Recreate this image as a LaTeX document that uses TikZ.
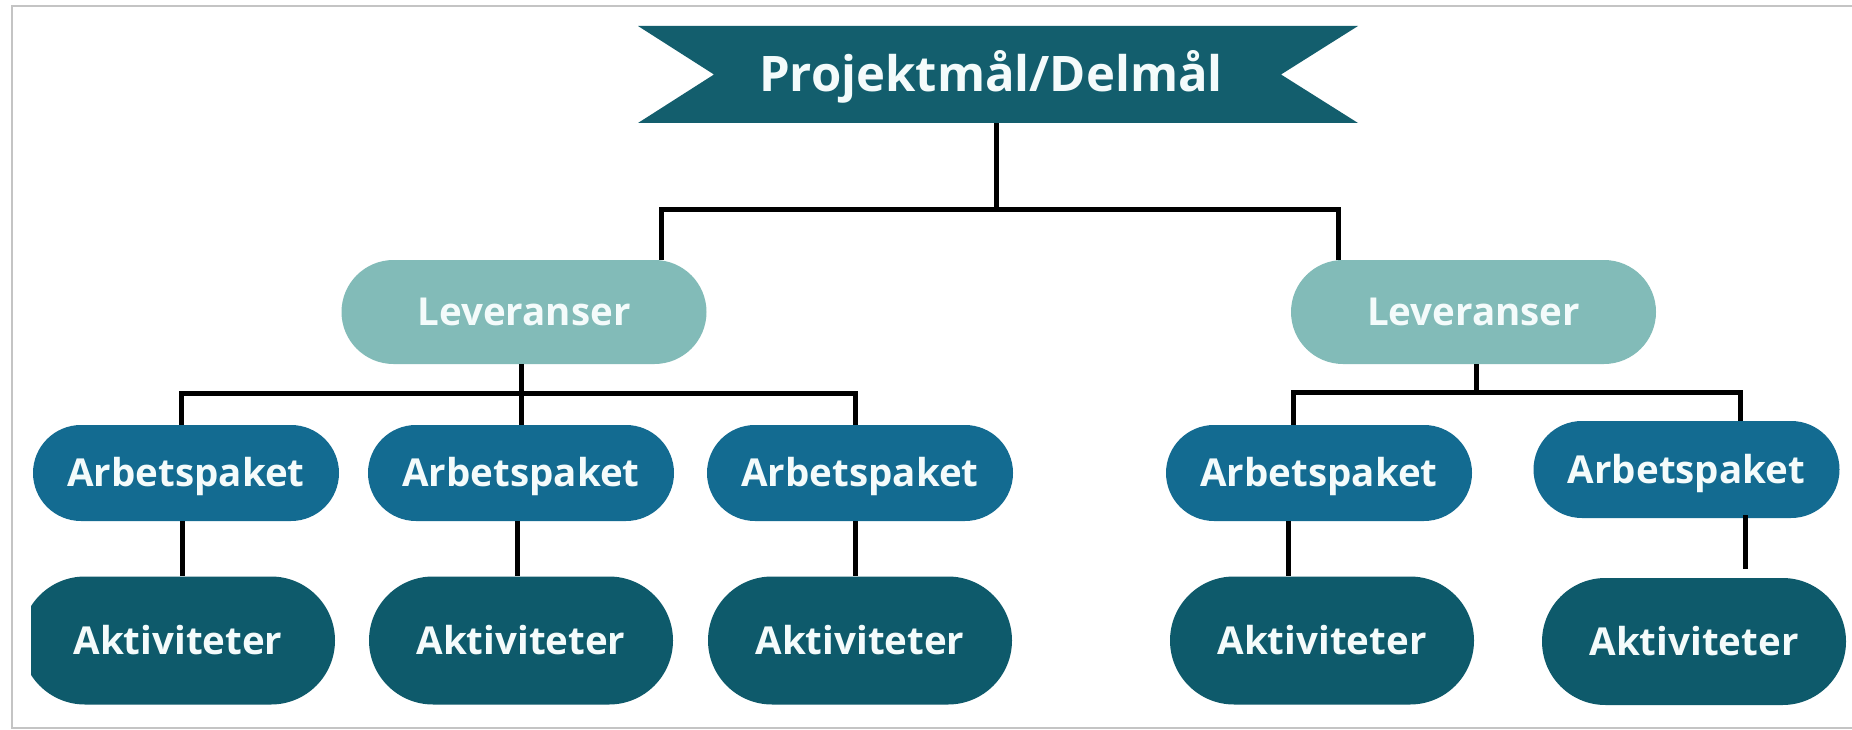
\documentclass[tikz,border=0pt]{standalone}
\usepackage{fontspec}
\setmainfont{Open Sans}
\usetikzlibrary{calc,shapes.misc}
\definecolor{banC}{HTML}{135E6D}
\definecolor{levC}{HTML}{82BBB8}
\definecolor{arbC}{HTML}{136B91}
\definecolor{aktC}{HTML}{0E5A6B}
\definecolor{txtC}{HTML}{F4FBFB}
\definecolor{frameC}{HTML}{C4C4C4}
\begin{document}
\begin{tikzpicture}[x=1pt,y=-1pt,
  conn/.style={line width=5pt, black, line join=miter},
  box/.style={inner sep=0pt, text=txtC, font=\bfseries\fontsize{38.5}{46}\selectfont, text height=27.5pt, text depth=0pt},
  pill/.style={box, rounded rectangle},
  lev/.style={pill, fill=levC, minimum width=365pt, minimum height=104pt},
  arb/.style={pill, fill=arbC, minimum width=306pt, minimum height=96pt},
  akt/.style={pill, fill=aktC, minimum width=304pt, minimum height=128pt},
  ban/.style={box, font=\bfseries\fontsize{49}{56}\selectfont, text height=35pt, minimum width=600pt, minimum height=97pt}]
\useasboundingbox (0,0) rectangle (1852,730);
\fill[white] (0,0) rectangle (1852,730);
% frame
\draw[frameC, line width=2pt] (1852,6) -- (12,6) -- (12,728) -- (1852,728);
% banner
\fill[banC] (638,26) -- (1358,26) -- (1281,74.5) -- (1358,123) -- (638,123) -- (714,74.5) -- cycle;
\node[ban] (top) at (991,74.5) {Projektmål/Delmål};
% level 1
\node[lev] (L1) at (524,312) {Leveranser};
\node[lev] (L2) at (1473.5,312) {Leveranser};
% level 2
\node[arb] (A1) at (186,473) {Arbetspaket};
\node[arb] (A2) at (521,473) {Arbetspaket};
\node[arb] (A3) at (860,473) {Arbetspaket};
\node[arb] (A4) at (1319,473) {Arbetspaket};
\node[arb, minimum height=97pt] (A5) at (1686.5,469.5) {Arbetspaket};
% level 3
\begin{scope}
  \clip (31,560) rectangle (400,720);
  \node[akt, minimum width=314pt] (K1) at (178,640.5) {Aktiviteter};
\end{scope}
\node[akt] (K2) at (521,640.5) {Aktiviteter};
\node[akt] (K3) at (860,640.5) {Aktiviteter};
\node[akt] (K4) at (1322,640.5) {Aktiviteter};
\node[akt, minimum height=127pt] (K5) at (1694,641.5) {Aktiviteter};
% connectors: banner to Leveranser
\coordinate (j0) at (996,210);
\coordinate (d1) at (661,210);
\coordinate (d2) at (1338,210);
\draw[conn] (top.south -| j0) -- (j0);
\draw[conn] (d1 |- L1.north) -- (d1) -- (d2) -- (d2 |- L2.north);
% Leveranser 1 to Arbetspaket
\coordinate (e0) at (521,393);
\coordinate (e1) at (181,393);
\coordinate (e3) at (855,393);
\draw[conn] (e0 |- L1.south) -- (e0 |- A2.north);
\draw[conn] (e1 |- A1.north) -- (e1) -- (e3) -- (e3 |- A3.north);
% Leveranser 2 to Arbetspaket
\coordinate (f0) at (1476,392);
\coordinate (f1) at (1293,392);
\coordinate (f2) at (1740,392);
\draw[conn] (f0 |- L2.south) -- (f0);
\draw[conn] (f1 |- A4.north) -- (f1) -- (f2) -- (f2 |- A5.north);
% Arbetspaket to Aktiviteter
\coordinate (g1) at (182,550);
\coordinate (g2) at (517,550);
\coordinate (g3) at (855,550);
\coordinate (g4) at (1288,550);
\coordinate (g5) at (1745,569);
\draw[conn] (A1.south -| g1) -- (K1.north -| g1);
\draw[conn] (A2.south -| g2) -- (K2.north -| g2);
\draw[conn] (A3.south -| g3) -- (K3.north -| g3);
\draw[conn] (A4.south -| g4) -- (K4.north -| g4);
\draw[conn] ([yshift=3pt]A5.south -| g5) -- (g5);
\end{tikzpicture}
\end{document}
